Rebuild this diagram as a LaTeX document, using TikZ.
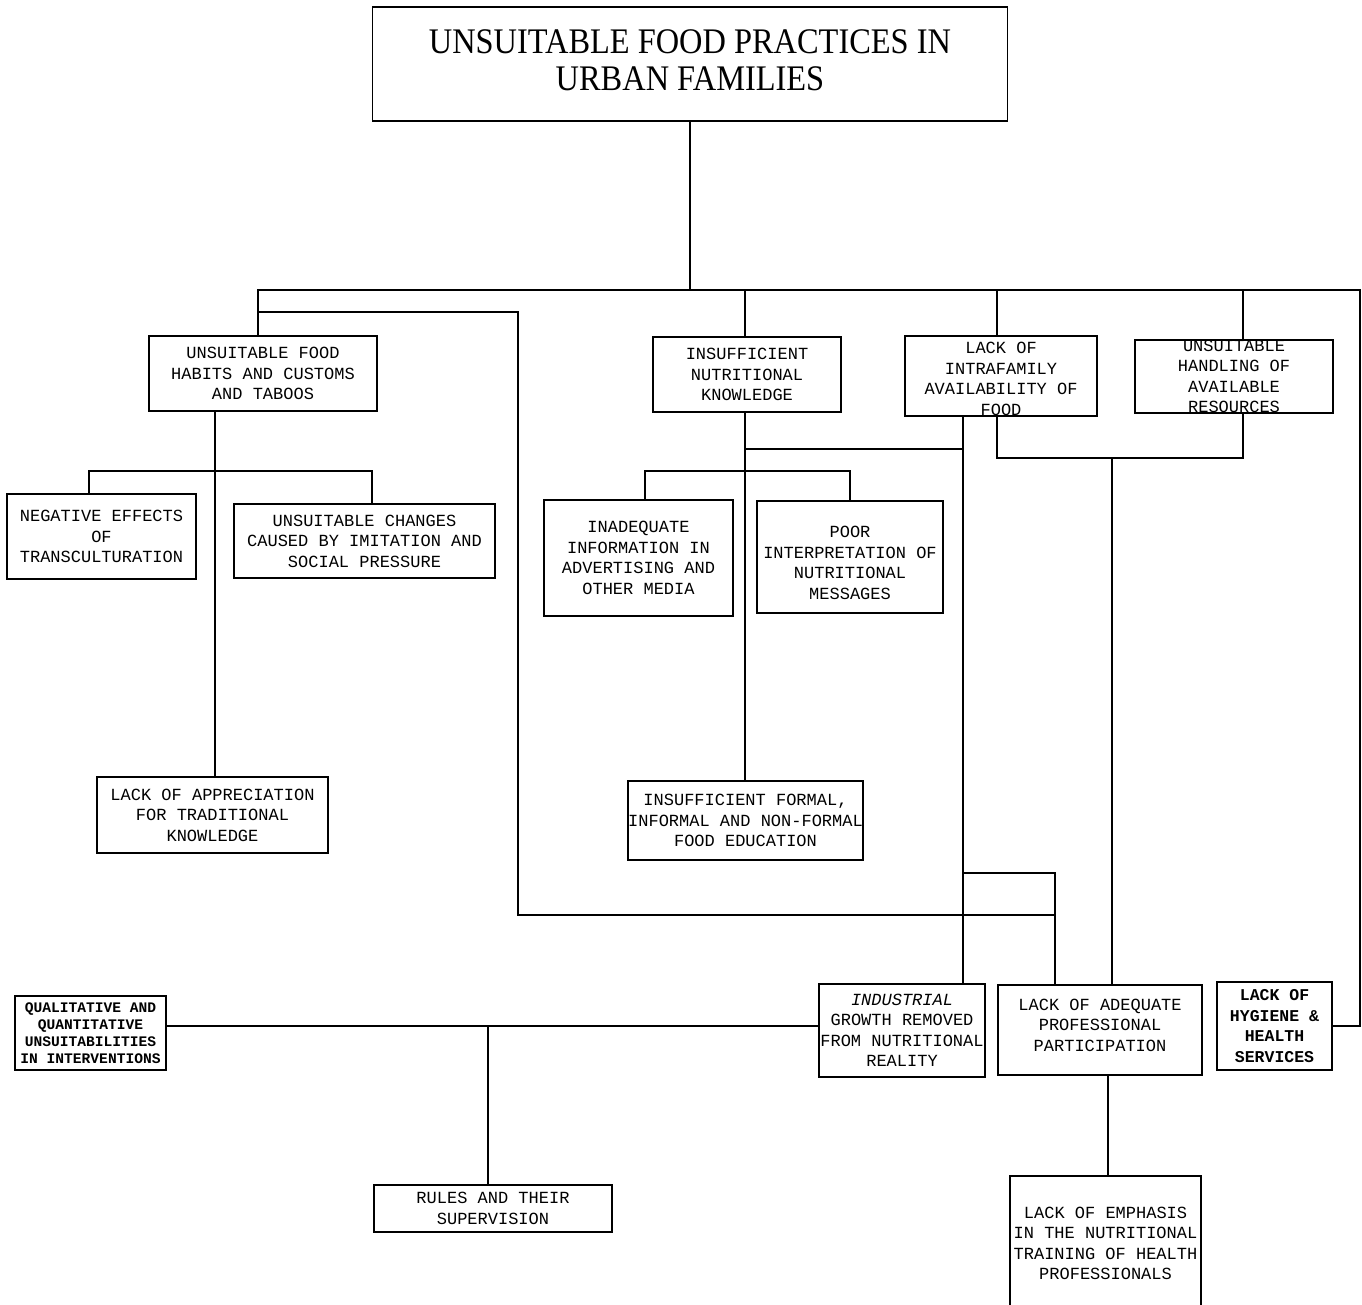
\documentclass[tikz,border=0pt]{standalone}
\usepackage{fontspec}
\newfontfamily\monofam{Liberation Mono}
\newfontfamily\titlefam[FakeStretch=0.9]{Liberation Serif}
\begin{document}
\begin{tikzpicture}[x=1pt,y=-1pt,
  box/.style 2 args={draw, line width=1.5pt, inner sep=0pt, minimum width=#1, minimum height=#2},
  txt/.style={font=\monofam\fontsize{17}{20.5}\selectfont, align=center, inner sep=0pt},
  txtsmall/.style={font=\monofam\bfseries\fontsize{14.6}{17}\selectfont, align=center, inner sep=0pt},
  txtheavy/.style={font=\monofam\bfseries\fontsize{16.5}{20.5}\selectfont, align=center, inner sep=0pt},
  titletxt/.style={font=\titlefam\fontsize{36}{37}\selectfont, align=center, inner sep=0pt},
  wire/.style={line width=1.5pt, line cap=rect}]

\useasboundingbox (0,0) rectangle (1362,1304);
\fill[white] (0,0) rectangle (1362,1304);
\clip (0,0) rectangle (1362,1304);

% ---------- boxes ----------
\node[box={635}{114}, label={[titletxt, yshift=3.5pt]center:{UNSUITABLE FOOD PRACTICES IN\\URBAN FAMILIES}}] (title) at (690,64) {};

\node[box={228}{75}, label={[txt]center:{UNSUITABLE FOOD\\HABITS AND CUSTOMS\\AND TABOOS}}] (habits) at (263,373.5) {};
\node[box={188}{75}, label={[txt]center:{INSUFFICIENT\\NUTRITIONAL\\KNOWLEDGE}}] (know) at (747,374.5) {};
\node[box={192}{80}, label={[txt, yshift=-3pt]center:{LACK OF\\INTRAFAMILY\\AVAILABILITY OF\\FOOD}}] (avail) at (1001,376) {};
\node[box={198}{73}, label={[txt]center:{UNSUITABLE\\HANDLING OF\\AVAILABLE\\RESOURCES}}] (res) at (1234,376.5) {};

\node[box={189}{85}, label={[txt]center:{NEGATIVE EFFECTS\\OF\\TRANSCULTURATION}}] (neg) at (101.5,536.5) {};
\node[box={261}{74}, label={[txt]center:{UNSUITABLE CHANGES\\CAUSED BY IMITATION AND\\SOCIAL PRESSURE}}] (chg) at (364.5,541) {};
\node[box={189}{116}, label={[txt]center:{INADEQUATE\\INFORMATION IN\\ADVERTISING AND\\OTHER MEDIA}}] (info) at (638.5,558) {};
\node[box={186}{112}, label={[txt, yshift=-6pt]center:{POOR\\INTERPRETATION OF\\NUTRITIONAL\\MESSAGES}}] (msg) at (850,557) {};

\node[box={231}{76}, label={[txt]center:{LACK OF APPRECIATION\\FOR TRADITIONAL\\KNOWLEDGE}}] (appr) at (212.5,815) {};
\node[box={235}{79}, label={[txt]center:{INSUFFICIENT FORMAL,\\INFORMAL AND NON-FORMAL\\FOOD EDUCATION}}] (edu) at (745.5,820.5) {};

\node[box={151}{74}, label={[txtsmall]center:{QUALITATIVE AND\\QUANTITATIVE\\UNSUITABILITIES\\IN INTERVENTIONS}}] (qual) at (90.5,1033) {};
\node[box={166}{93}, label={[txt]center:{{\itshape INDUSTRIAL}\\GROWTH REMOVED\\FROM NUTRITIONAL\\REALITY}}] (ind) at (902,1030.5) {};
\node[box={204}{90}, label={[txt, yshift=5pt]center:{LACK OF ADEQUATE\\PROFESSIONAL\\PARTICIPATION}}] (prof) at (1100,1030) {};
\node[box={115}{88}, label={[txtheavy]center:{LACK OF\\HYGIENE \&\\HEALTH\\SERVICES}}] (hyg) at (1274.5,1026) {};

\node[box={238}{47}, label={[txt]center:{RULES AND THEIR\\SUPERVISION}}] (rules) at (493,1208.5) {};
\node[box={191}{140}, label={[txt, yshift=2.5pt]center:{LACK OF EMPHASIS\\IN THE NUTRITIONAL\\TRAINING OF HEALTH\\PROFESSIONALS}}] (emph) at (1105.5,1246) {};

% ---------- guide positions of the wiring ----------
\coordinate (xHab)  at (258,0);
\coordinate (xKnow) at (745,0);
\coordinate (xAv)   at (997,0);
\coordinate (xRes)  at (1243,0);
\coordinate (xBus)  at (1360,0);
\coordinate (xLoop) at (518,0);
\coordinate (xAppr) at (215,0);
\coordinate (xNeg)  at (89,0);
\coordinate (xChg)  at (372,0);
\coordinate (xInfo) at (645,0);
\coordinate (xMsg)  at (850,0);
\coordinate (xInd)  at (963,0);
\coordinate (xP1)   at (1055,0);
\coordinate (xP2)   at (1112,0);
\coordinate (xEm)   at (1108,0);
\coordinate (xRul)  at (488,0);

\coordinate (yBus)  at (0,290);
\coordinate (yLoop) at (0,312);
\coordinate (yKn)   at (0,449);
\coordinate (yAv)   at (0,458);
\coordinate (yFork) at (0,471);
\coordinate (yTop)  at (0,873);
\coordinate (yLow)  at (0,915);
\coordinate (yQual) at (0,1026);

% ---------- connectors ----------
\draw[wire] (title.south) -- (title.south |- yBus);
\draw[wire] (xHab |- yBus) -- (xBus |- yBus) -- (xBus |- hyg.east) -- (hyg.east);
\draw[wire] (xHab |- yBus) -- (xHab |- habits.north);
\draw[wire] (xKnow |- yBus) -- (xKnow |- know.north);
\draw[wire] (xAv |- yBus) -- (xAv |- avail.north);
\draw[wire] (xRes |- yBus) -- (xRes |- res.north);

\draw[wire] (xHab |- yLoop) -- (xLoop |- yLoop) -- (xLoop |- yLow) -- (xP1 |- yLow);

\draw[wire] (xAppr |- habits.south) -- (xAppr |- appr.north);
\draw[wire] (xNeg |- neg.north) -- (xNeg |- yFork) -- (xChg |- yFork) -- (xChg |- chg.north);

\draw[wire] (xKnow |- know.south) -- (xKnow |- edu.north);
\draw[wire] (xKnow |- yKn) -- (xInd |- yKn);
\draw[wire] (xInfo |- info.north) -- (xInfo |- yFork) -- (xMsg |- yFork) -- (xMsg |- msg.north);

\draw[wire] (xInd |- avail.south) -- (xInd |- ind.north);
\draw[wire] (xInd |- yTop) -- (xP1 |- yTop) -- (xP1 |- prof.north);

\draw[wire] (xAv |- avail.south) -- (xAv |- yAv) -- (xRes |- yAv) -- (xRes |- res.south);
\draw[wire] (xP2 |- yAv) -- (xP2 |- prof.north);

\draw[wire] (xEm |- prof.south) -- (xEm |- emph.north);

\draw[wire] (qual.east |- yQual) -- (ind.west |- yQual);
\draw[wire] (xRul |- yQual) -- (xRul |- rules.north);
\end{tikzpicture}
\end{document}
